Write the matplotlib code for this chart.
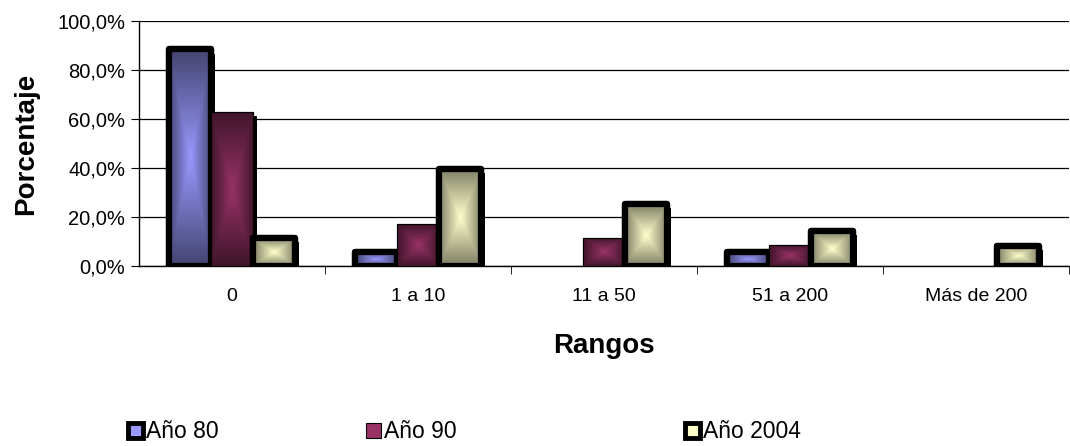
import numpy as np
import matplotlib
matplotlib.use("Agg")
import matplotlib.pyplot as plt
from matplotlib.patches import Rectangle
from matplotlib.colors import LinearSegmentedColormap, to_rgb
import matplotlib.patheffects as pe

plt.rcParams['font.family'] = ['Liberation Sans', 'DejaVu Sans']

categories = ["0", "1 a 10", "11 a 50", "51 a 200", "Más de 200"]
series_names = ["Año 80", "Año 90", "Año 2004"]
anio_80 = [88.4, 5.6, 0.0, 5.6, 0.0]
anio_90 = [62.9, 17.0, 11.6, 8.4, 0.0]
anio_2004 = [11.3, 39.7, 25.3, 14.2, 8.3]
values = [anio_80, anio_90, anio_2004]
yticks = [0, 20, 40, 60, 80, 100]
ytick_labels = ["0,0%", "20,0%", "40,0%", "60,0%", "80,0%", "100,0%"]

colors = ["#9999FF", "#993366", "#FFFFCC"]
edge_dark = [0.45, 0.42, 0.5]
thick = [True, False, True]

fig = plt.figure(figsize=(10.7, 4.46), dpi=100)
ax = fig.add_axes([139/1070, 1-266/446, (1069-139)/1070, (266-21)/446])

x = np.arange(len(categories))
width = 0.226
offsets = [-width, 0, width]

# gradient template (rectangular "from center")
n = 64
u = np.linspace(-1, 1, n)
U, V = np.meshgrid(u, u)
G = np.maximum(np.abs(U), np.abs(V))

for i, (name, vals) in enumerate(zip(series_names, values)):
    z = 2 + i
    c = np.array(to_rgb(colors[i]))
    cmap = LinearSegmentedColormap.from_list(f"g{i}", [c, c * edge_dark[i]])
    lw = 4.5 if thick[i] else 0.8
    base = ax.bar(x + offsets[i], vals, width, color=colors[i], edgecolor='black',
                  linewidth=lw, zorder=z)
    for rect in base:
        h = rect.get_height()
        if h <= 0:
            rect.set_visible(False)
            continue
        rect.set_path_effects([pe.SimplePatchShadow(offset=(3, -3), shadow_rgbFace='black', alpha=1.0), pe.Normal()])
        rect.set_joinstyle('round')
        x0 = rect.get_x()
        im = ax.imshow(G, cmap=cmap, vmin=0, vmax=1, extent=(x0, x0 + rect.get_width(), 0, h),
                       aspect='auto', interpolation='bilinear', zorder=z + 0.1)
        im.set_clip_path(rect)
        outline = Rectangle((x0, 0), rect.get_width(), h, facecolor='none', edgecolor='black',
                            linewidth=lw, joinstyle='round', zorder=z + 0.2)
        ax.add_patch(outline)

ax.set_xlim(-0.5, len(categories) - 0.5)
ax.set_ylim(0, 100)
ax.set_yticks(yticks)
ax.set_yticklabels(ytick_labels, fontsize=14.5)
ax.set_xticks(x)
ax.set_xticklabels(categories, fontsize=14)
ax.set_xticks(np.arange(0.5, len(categories) - 0.4, 1.0), minor=True)
ax.tick_params(axis='x', which='major', length=0, pad=16)
ax.tick_params(axis='x', which='minor', length=6, direction='out', color='black')
ax.tick_params(axis='y', length=6, direction='out', color='black', pad=4)
ax.yaxis.grid(True, color='black', linewidth=0.9)
ax.set_axisbelow(True)
for s in ['top', 'right']:
    ax.spines[s].set_visible(False)
for s in ['left', 'bottom']:
    ax.spines[s].set_color('black')
    ax.spines[s].set_linewidth(1.0)

ax.set_ylabel("Porcentaje", fontsize=20, fontweight='bold', labelpad=13)
ax.set_xlabel("Rangos", fontsize=20, fontweight='bold', labelpad=20)

# legend: three entries spread along the bottom
legend_x = [128/1070, 366/1070, 685/1070]
for i, name in enumerate(series_names):
    lw = 3.5 if thick[i] else 0.8
    h = Rectangle((0, 0), 1, 1, facecolor=colors[i], edgecolor='black', linewidth=lw)
    fig.legend([h], [name], loc='center left', bbox_to_anchor=(legend_x[i], 1-432/446),
               frameon=False, fontsize=16.5, handlelength=0.65, handleheight=0.65,
               handletextpad=0.15, borderpad=0, borderaxespad=0)

fig.savefig("out.png", dpi=100)
